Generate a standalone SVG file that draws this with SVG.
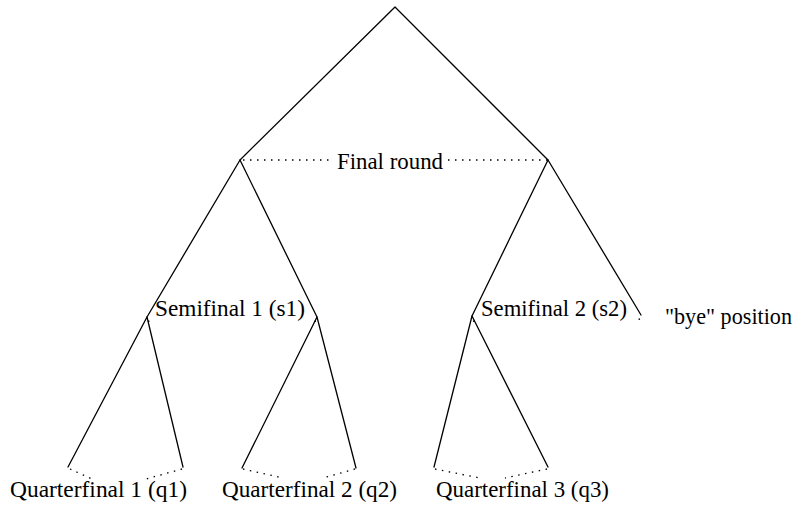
<svg xmlns="http://www.w3.org/2000/svg" width="795" height="506" viewBox="0 0 795 506">
<style>
.e{stroke:#000;stroke-width:1.3;fill:none;stroke-linecap:round}
.d{stroke:#000;stroke-width:1.3;fill:none;stroke-dasharray:1.5 5.5}
text{font-family:"Liberation Serif","Times New Roman",serif;font-size:22.5px;fill:#000}
</style>
<rect width="795" height="506" fill="#fff"/>
<g id="connectors">
<path class="e" d="M395 7L240 160M395 7L548 160"/>
<path class="e" d="M240 160L147 317M240 160L317 317"/>
<path class="e" d="M548 160L472 316M548 160L641 315"/>
<path class="e" d="M147 317L68 467M147 317L183 467"/>
<path class="e" d="M317 317L242 468M317 317L356 468"/>
<path class="e" d="M472 316L434 467M472 316L548 467"/>
<path class="d" d="M243 160H333M448 160H548"/>
<path class="d" d="M148 321L152 322M316 321L312 322M473 321L477 322M640 319L636 320"/>
<path class="d" d="M70 469L92 479M182 469L146 479"/>
<path class="d" d="M243 469L283 478M355 469L323 478"/>
<path class="d" d="M435 469L480 478M547 469L505 478"/>
</g>
<g id="final"><text x="337" y="169" textLength="106" lengthAdjust="spacingAndGlyphs">Final round</text></g>
<g id="s1"><text x="155" y="316" textLength="150" lengthAdjust="spacingAndGlyphs">Semifinal 1 (s1)</text></g>
<g id="s2"><text x="481" y="316" textLength="146" lengthAdjust="spacingAndGlyphs">Semifinal 2 (s2)</text></g>
<g id="bye"><text x="665" y="324" textLength="127" lengthAdjust="spacingAndGlyphs">"bye" position</text></g>
<g id="q1"><text x="10" y="497" textLength="177" lengthAdjust="spacingAndGlyphs">Quarterfinal 1 (q1)</text></g>
<g id="q2"><text x="222" y="497" textLength="175" lengthAdjust="spacingAndGlyphs">Quarterfinal 2 (q2)</text></g>
<g id="q3"><text x="436" y="497" textLength="173" lengthAdjust="spacingAndGlyphs">Quarterfinal 3 (q3)</text></g>
</svg>
